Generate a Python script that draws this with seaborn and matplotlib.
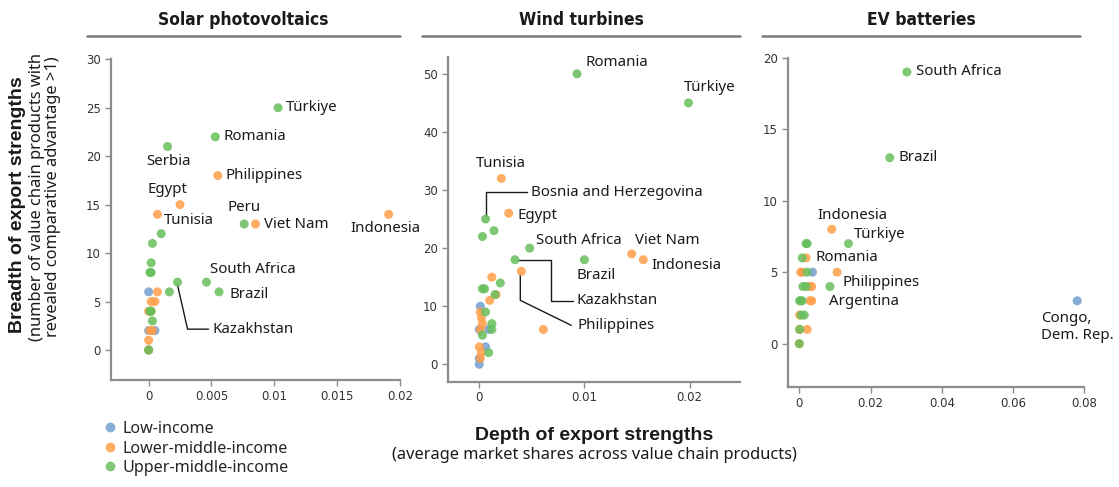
import matplotlib
matplotlib.use("Agg")
import matplotlib.pyplot as plt
from matplotlib.lines import Line2D
import seaborn as sns
import pandas as pd
import numpy as np

# ---------------- data ----------------
groups = ["Low-income", "Lower-middle-income", "Upper-middle-income"]
colors = ["#729ECE", "#FF9E4A", "#67BF5C"]

# Solar photovoltaics
solar_low_x = [0.0, 0.0, 0.0005, 0.0]
solar_low_y = [6, 2, 2, 0]
solar_lmi_x = [0.0055, 0.0025, 0.0007, 0.0085, 0.0191, 0.0007, 0.0002, 0.0005, 0.0, 0.0002, 0.0001, 0.0003, 0.0, 0.0]
solar_lmi_y = [18, 15, 14, 13, 14, 6, 5, 5, 4, 4, 2, 2, 1, 0]
solar_umi_x = [0.0103, 0.0053, 0.0015, 0.0076, 0.001, 0.0003, 0.0002, 0.0001, 0.0002, 0.0046, 0.0023, 0.00165, 0.0056, 0.0001, 0.0002, 0.0003, 0.0]
solar_umi_y = [25, 22, 21, 13, 12, 11, 9, 8, 8, 7, 7, 6, 6, 4, 4, 3, 0]

# Wind turbines
wind_low_x = [0.0001, 0.0, 0.0009, 0.0006, 0.0, 0.0]
wind_low_y = [10, 6, 6, 3, 1, 0]
wind_lmi_x = [0.0021, 0.0028, 0.0145, 0.0156, 0.004, 0.0012, 0.0016, 0.001, 0.0001, 0.0002, 0.0003, 0.0001, 0.0061, 0.0, 0.0002, 0.0001]
wind_lmi_y = [32, 26, 19, 18, 16, 15, 12, 11, 9, 8, 7, 6, 6, 3, 2, 1]
wind_umi_x = [0.0093, 0.0199, 0.0006, 0.0003, 0.0014, 0.0048, 0.01, 0.0034, 0.002, 0.0003, 0.0005, 0.0015, 0.0006, 0.0012, 0.0012, 0.0003, 0.0009]
wind_umi_y = [50, 45, 25, 22, 23, 20, 18, 18, 14, 13, 13, 12, 9, 7, 6, 5, 2]

# EV batteries
ev_low_x = [0.0037, 0.078]
ev_low_y = [5, 3]
ev_lmi_x = [0.0091, 0.0019, 0.0106, 0.0004, 0.0008, 0.0028, 0.0035, 0.003, 0.0035, 0.0001, 0.0001, 0.0022, 0.0]
ev_lmi_y = [8, 6, 5, 5, 5, 4, 4, 3, 3, 2, 1, 1, 0]
ev_umi_x = [0.0302, 0.0254, 0.0138, 0.0019, 0.0022, 0.0008, 0.0022, 0.001, 0.0019, 0.0086, 0.0001, 0.0003, 0.0008, 0.0005, 0.0014, 0.0001, 0.0]
ev_umi_y = [19, 13, 7, 7, 7, 6, 5, 4, 4, 4, 3, 3, 3, 2, 2, 1, 0]

panel_titles = ["Solar photovoltaics", "Wind turbines", "EV batteries"]

solar_xticks = [0, 0.005, 0.01, 0.015, 0.02]
solar_xticklabels = ["0", "0.005", "0.01", "0.015", "0.02"]
solar_yticks = [0, 5, 10, 15, 20, 25, 30]
wind_xticks = [0, 0.01, 0.02]
wind_xticklabels = ["0", "0.01", "0.02"]
wind_yticks = [0, 10, 20, 30, 40, 50]
ev_xticks = [0, 0.02, 0.04, 0.06, 0.08]
ev_xticklabels = ["0", "0.02", "0.04", "0.06", "0.08"]
ev_yticks = [0, 5, 10, 15, 20]

# labelled countries: (name, x, y)
solar_labels = [("Türkiye", 0.0103, 25), ("Romania", 0.0053, 22), ("Serbia", 0.0015, 21),
                ("Philippines", 0.0055, 18), ("Egypt", 0.0025, 15), ("Tunisia", 0.0007, 14),
                ("Peru", 0.0076, 13), ("Viet Nam", 0.0085, 13), ("Indonesia", 0.0191, 14),
                ("South Africa", 0.0046, 7), ("Brazil", 0.0056, 6), ("Kazakhstan", 0.0023, 7)]
wind_labels = [("Romania", 0.0093, 50), ("Türkiye", 0.0199, 45), ("Tunisia", 0.0021, 32),
               ("Bosnia and Herzegovina", 0.0006, 25), ("Egypt", 0.0028, 26),
               ("South Africa", 0.0048, 20), ("Viet Nam", 0.0145, 19), ("Indonesia", 0.0156, 18),
               ("Brazil", 0.01, 18), ("Kazakhstan", 0.0034, 18), ("Philippines", 0.004, 16)]
ev_labels = [("South Africa", 0.0302, 19), ("Brazil", 0.0254, 13), ("Indonesia", 0.0091, 8),
             ("Türkiye", 0.0138, 7), ("Romania", 0.0019, 6), ("Philippines", 0.0106, 5),
             ("Argentina", 0.0086, 4), ("Congo,\nDem. Rep.", 0.078, 3)]

# ---------------- styling (label placement in pixel offsets) ----------------
solar_place = {
    "Türkiye": (8, 0, "left", None), "Romania": (8, 0, "left", None),
    "Serbia": (1, -15, "center", None), "Philippines": (8, 0, "left", None),
    "Egypt": (-13, 15, "center", None), "Tunisia": (6, -6, "left", None),
    "Peru": (0, 17, "center", None), "Viet Nam": (9, 0, "left", None),
    "Indonesia": (-3, -14, "center", None), "South Africa": (4, 13, "left", None),
    "Brazil": (10, -3, "left", None),
    "Kazakhstan": (35, -47, "left", [(0, -3), (10, -47), (31, -47)]),
}
wind_place = {
    "Romania": (8, 11, "left", None), "Türkiye": (21, 15, "center", None),
    "Tunisia": (0, 15, "center", None),
    "Bosnia and Herzegovina": (45, 27, "left", [(0, 3), (0, 27), (41, 27)]),
    "Egypt": (9, -2, "left", None), "South Africa": (6, 8, "left", None),
    "Viet Nam": (3, 13, "left", None), "Indonesia": (8, -6, "left", None),
    "Brazil": (-8, -16, "left", None),
    "Kazakhstan": (62, -41, "left", [(3, 0), (36, 0), (36, -41), (58, -41)]),
    "Philippines": (56, -54, "left", [(-1, -3), (-1, -29), (50, -54)]),
}
ev_place = {
    "South Africa": (9, 0, "left", None), "Brazil": (9, 0, "left", None),
    "Indonesia": (21, 14, "center", None), "Türkiye": (5, 9, "left", None),
    "Romania": (9, 0, "left", None), "Philippines": (5, -10, "left", None),
    "Argentina": (-1, -15, "left", None), "Congo,\nDem. Rep.": (-36, -26, "left", None),
}

sns.set_theme(style="white")
plt.rcParams["font.family"] = ["DejaVu Sans"]

W, H = 1119, 487
fig = plt.figure(figsize=(W / 100, H / 100), dpi=100)

def fx(px):
    return px / W

def fy(py):
    return 1 - py / H

rects = [(110.7, 59.3, 400, 380), (447.7, 57, 740, 381.7), (787.7, 57.7, 1084.3, 387.3)]
xlims = [(-0.00302, 0.02), (-0.003, 0.0248), (-0.00326, 0.08)]
ylims = [(-3.1, 30), (-3.0, 52.9), (-3.05, 20)]

def make_df(lx, ly, mx, my, ux, uy):
    return pd.DataFrame({
        "x": lx + mx + ux,
        "y": ly + my + uy,
        "group": [groups[0]] * len(lx) + [groups[1]] * len(mx) + [groups[2]] * len(ux),
    })

dfs = [make_df(solar_low_x, solar_low_y, solar_lmi_x, solar_lmi_y, solar_umi_x, solar_umi_y),
       make_df(wind_low_x, wind_low_y, wind_lmi_x, wind_lmi_y, wind_umi_x, wind_umi_y),
       make_df(ev_low_x, ev_low_y, ev_lmi_x, ev_lmi_y, ev_umi_x, ev_umi_y)]
xticks = [solar_xticks, wind_xticks, ev_xticks]
xticklabels = [solar_xticklabels, wind_xticklabels, ev_xticklabels]
yticks = [solar_yticks, wind_yticks, ev_yticks]
labels = [solar_labels, wind_labels, ev_labels]
places = [solar_place, wind_place, ev_place]
title_lines = [(87, 400), (422, 740), (762, 1080)]

spine_col = "#8c8c8c"
label_font = ["Noto Sans", "DejaVu Sans"]
bold_font = ["Liberation Sans", "DejaVu Sans"]
palette = dict(zip(groups, colors))

for i in range(3):
    l, t, r, b = rects[i]
    ax = fig.add_axes([fx(l), fy(b), fx(r) - fx(l), fy(t) - fy(b)])
    sns.scatterplot(data=dfs[i], x="x", y="y", hue="group", hue_order=groups,
                    palette=palette, s=42, alpha=0.85, linewidth=0, ax=ax,
                    legend=False, zorder=3, clip_on=False)
    ax.set_xlim(*xlims[i])
    ax.set_ylim(*ylims[i])
    ax.set_xticks(xticks[i])
    ax.set_xticklabels(xticklabels[i])
    ax.set_yticks(yticks[i])
    ax.set_xlabel("")
    ax.set_ylabel("")
    for s in ["top", "right"]:
        ax.spines[s].set_visible(False)
    for s in ["left", "bottom"]:
        ax.spines[s].set_color(spine_col)
        ax.spines[s].set_linewidth(1.6)
    ax.tick_params(axis="both", which="major", length=4, width=1, color=spine_col,
                   labelsize=8.5, labelcolor="#333333", pad=3, direction="out",
                   bottom=True, left=True)
    ax.grid(False)

    for name, x, y in labels[i]:
        dx, dy, ha, leader = places[i][name]
        ax.annotate(name, xy=(x, y), xytext=(dx, dy), textcoords="offset pixels",
                    ha=ha, va="center", fontsize=10.8, color="#1a1a1a",
                    family=label_font, linespacing=1.15, zorder=4)
        if leader is not None:
            base = ax.transData.transform((x, y))
            pts = np.array([base + np.array(p) for p in leader])
            dpts = ax.transData.inverted().transform(pts)
            ax.plot(dpts[:, 0], dpts[:, 1], color="#1a1a1a", lw=1.0, zorder=2,
                    clip_on=False)

    x0, x1 = title_lines[i]
    fig.add_artist(Line2D([fx(x0), fx(x1)], [fy(35.5), fy(35.5)], color="#7a7a7a",
                          lw=1.8, transform=fig.transFigure))
    fig.text(fx((x0 + x1) / 2), fy(20), panel_titles[i], ha="center", va="center",
             fontsize=12.5, fontweight="bold", fontstretch="condensed",
             family=["DejaVu Sans"], color="#1a1a1a")

# axis titles
fig.text(fx(18), fy(205), "Breadth of export strengths", rotation=90, ha="center",
         va="center", fontsize=14, fontweight="bold", family=bold_font, color="#1a1a1a")
fig.text(fx(45), fy(197), "(number of value chain products with\nrevealed comparative advantage >1)",
         rotation=90, ha="center", va="center", fontsize=11.8, family=label_font,
         color="#1a1a1a", linespacing=1.0)
fig.text(fx(594), fy(435), "Depth of export strengths", ha="center", va="center",
         fontsize=14, fontweight="bold", family=bold_font, color="#1a1a1a")
fig.text(fx(594), fy(455), "(average market shares across value chain products)",
         ha="center", va="center", fontsize=11.8, family=label_font, color="#1a1a1a")

handles = [Line2D([], [], marker="o", linestyle="", markersize=7, markerfacecolor=c,
                  markeredgewidth=0, alpha=0.85) for c in colors]
fig.legend(handles, groups, loc="upper left", bbox_to_anchor=(fx(104), fy(421)),
           frameon=False, handlelength=0.8, handletextpad=0.35,
           labelspacing=0.22, borderaxespad=0, borderpad=0,
           prop={"family": label_font, "size": 11.6})

fig.savefig("out.png", dpi=100, facecolor="white")
